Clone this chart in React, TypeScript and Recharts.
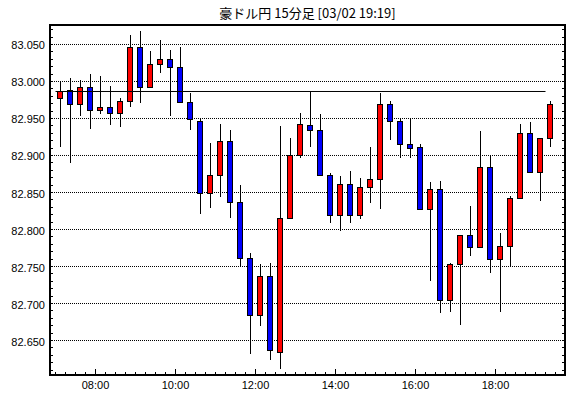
import React from 'react';
import { ComposedChart, Bar, XAxis, YAxis, CartesianGrid, ReferenceLine } from 'recharts';

// ---- data ----
const times = [
  '07:00', '07:15', '07:30', '07:45', '08:00', '08:15', '08:30', '08:45',
  '09:00', '09:15', '09:30', '09:45', '10:00', '10:15', '10:30', '10:45',
  '11:00', '11:15', '11:30', '11:45', '12:00', '12:15', '12:30', '12:45',
  '13:00', '13:15', '13:30', '13:45', '14:00', '14:15', '14:30', '14:45',
  '15:00', '15:15', '15:30', '15:45', '16:00', '16:15', '16:30', '16:45',
  '17:00', '17:15', '17:30', '17:45', '18:00', '18:15', '18:30', '18:45',
  '19:00', '19:15',
];
const openVals = [
  82.978, 82.989, 82.970, 82.992, 82.962, 82.966, 82.958, 82.974, 83.046, 82.993,
  83.024, 83.030, 83.020, 82.972, 82.947, 82.849, 82.874, 82.920, 82.837, 82.761,
  82.684, 82.737, 82.635, 82.816, 82.901, 82.941, 82.934, 82.874, 82.819, 82.862,
  82.819, 82.858, 82.868, 82.969, 82.947, 82.915, 82.911, 82.828, 82.855, 82.705,
  82.754, 82.793, 82.777, 82.885, 82.760, 82.778, 82.843, 82.931, 82.878, 82.923,
];
const highVals = [
  83.000, 83.005, 83.002, 83.010, 83.007, 82.994, 82.978, 83.063, 83.068, 83.041,
  83.056, 83.042, 83.046, 82.984, 82.951, 82.917, 82.942, 82.934, 82.860, 82.768,
  82.753, 82.755, 82.940, 82.924, 82.957, 82.987, 82.956, 82.876, 82.872, 82.879,
  82.869, 82.911, 82.984, 82.973, 82.950, 82.950, 82.916, 82.864, 82.866, 82.755,
  82.793, 82.832, 82.933, 82.901, 82.795, 82.845, 82.942, 82.945, 82.924, 82.974,
];
const lowVals = [
  82.912, 82.890, 82.954, 82.936, 82.956, 82.941, 82.939, 82.966, 82.971, 82.992,
  83.012, 82.954, 82.972, 82.935, 82.821, 82.829, 82.844, 82.816, 82.750, 82.632,
  82.669, 82.623, 82.612, 82.815, 82.897, 82.912, 82.872, 82.809, 82.798, 82.809,
  82.814, 82.836, 82.828, 82.921, 82.897, 82.897, 82.828, 82.730, 82.687, 82.689,
  82.671, 82.764, 82.777, 82.741, 82.689, 82.750, 82.841, 82.878, 82.838, 82.912,
];
const closeVals = [
  82.987, 82.970, 82.992, 82.962, 82.966, 82.958, 82.974, 83.046, 82.992, 83.024,
  83.030, 83.020, 82.972, 82.949, 82.849, 82.874, 82.920, 82.837, 82.761, 82.684,
  82.737, 82.637, 82.816, 82.901, 82.942, 82.934, 82.874, 82.819, 82.862, 82.819,
  82.858, 82.868, 82.969, 82.946, 82.915, 82.910, 82.828, 82.855, 82.705, 82.754,
  82.793, 82.777, 82.885, 82.760, 82.778, 82.843, 82.931, 82.878, 82.923, 82.970,
];
const refLevel = 82.9865;
const refStart = '07:00';
const refEnd = '19:15';
const gridValues = [82.65, 82.7, 82.75, 82.8, 82.85, 82.9, 82.95, 83.0, 83.05];
const xLabels = ['08:00', '10:00', '12:00', '14:00', '16:00', '18:00'];
const title = '豪ドル円 15分足 [03/02 19:19]';

// ---- helpers ----
const toMin = (s: string) => {
  const [h, m] = s.split(':').map(Number);
  return h * 60 + m;
};
const fmt = (v: number) => {
  const h = Math.floor(v / 60);
  const m = Math.round(v - h * 60);
  return `${String(h).padStart(2, '0')}:${String(m).padStart(2, '0')}`;
};

const data = times.map((s, i) => ({
  t: toMin(s) + 7.5,
  open: openVals[i],
  high: highVals[i],
  low: lowVals[i],
  close: closeVals[i],
  range: [lowVals[i], highVals[i]],
}));

const X_DOMAIN: [number, number] = [411.75, 1184.25];
const Y_DOMAIN: [number, number] = [82.60338, 83.07635];

const xTicks: number[] = [];
for (let v = 420; v <= 1170; v += 15) xTicks.push(v);
const yTicks: number[] = [];
for (let k = 8261; k <= 8307; k += 1) yTicks.push(k / 100);

const FONT = '"Liberation Sans", Arial, sans-serif';

const Candle = (props: any) => {
  const { x, y, width, height, payload } = props;
  if (x == null || y == null || !payload) return null;
  const top = Math.min(y, y + height);
  const h = Math.abs(height);
  const { open, close, high, low } = payload;
  const py = (v: number) => top + ((high - v) / (high - low)) * h;
  const cx = Math.floor(x + width / 2) + 0.5;
  const up = close >= open;
  const yb1 = Math.round(py(Math.max(open, close)));
  const yb2 = Math.round(py(Math.min(open, close)));
  return (
    <g>
      <line x1={cx} x2={cx} y1={Math.round(py(high))} y2={Math.round(py(low))} stroke="#000" strokeWidth={1} />
      <rect
        x={cx - 3}
        y={yb1 + 0.5}
        width={5}
        height={Math.max(yb2 - yb1, 1)}
        fill={up ? '#ff0000' : '#0000ff'}
        stroke="#000"
        strokeWidth={1}
      />
    </g>
  );
};

const BottomTick = (props: any) => {
  const { x, y, payload } = props;
  const label = fmt(payload.value);
  const major = xLabels.includes(label);
  return (
    <g>
      <line x1={x} x2={x} y1={y} y2={y - (major ? 6 : 3)} stroke="#000" />
      {major && (
        <text x={x} y={y + 14} textAnchor="middle" fontSize={11} fontFamily={FONT} fill="#000">
          {label}
        </text>
      )}
    </g>
  );
};

const TopTick = (props: any) => {
  const { x, y, payload } = props;
  const major = xLabels.includes(fmt(payload.value));
  return <line x1={x} x2={x} y1={y} y2={y + (major ? 5 : 2)} stroke="#000" />;
};

const LeftTick = (props: any) => {
  const { x, y, payload } = props;
  const v = payload.value as number;
  const major = Math.round(v * 1000) % 50 === 0;
  const yy = Math.floor(y) + 0.5;
  return (
    <g>
      <line x1={x} x2={x + 3} y1={yy} y2={yy} stroke="#000" />
      {major && (
        <text x={x - 5} y={y + 5} textAnchor="end" fontSize={11} fontFamily={FONT} fill="#000">
          {v.toFixed(3)}
        </text>
      )}
    </g>
  );
};

const RightTick = (props: any) => {
  const { x, y } = props;
  const yy = Math.floor(y) + 0.5;
  return <line x1={x} x2={x - 3} y1={yy} y2={yy} stroke="#000" />;
};

const axisLine = { stroke: '#000', strokeWidth: 2, strokeLinecap: 'square' as const };

export default function App() {
  return (
    <div style={{ position: 'absolute', left: 0, top: 0, width: 570, height: 398, background: '#fff' }}>
      <ComposedChart width={570} height={398} data={data} margin={{ top: 0, right: 0, bottom: 0, left: 0 }}>
        <CartesianGrid
          horizontal
          vertical={false}
          horizontalValues={gridValues}
          stroke="#000"
          strokeDasharray="1 1"
        />
        <XAxis
          dataKey="t"
          type="number"
          domain={X_DOMAIN}
          allowDataOverflow
          ticks={xTicks}
          interval={0}
          tickSize={0}
          tickMargin={0}
          tickLine={false}
          tick={BottomTick}
          axisLine={axisLine}
          height={23}
        />
        <XAxis
          xAxisId="top"
          orientation="top"
          type="number"
          domain={X_DOMAIN}
          allowDataOverflow
          ticks={xTicks}
          interval={0}
          tickSize={0}
          tickMargin={0}
          tickLine={false}
          tick={TopTick}
          axisLine={axisLine}
          height={25}
        />
        <YAxis
          type="number"
          domain={Y_DOMAIN}
          allowDataOverflow
          ticks={yTicks}
          interval={0}
          tickSize={0}
          tickMargin={0}
          tickLine={false}
          tick={LeftTick}
          axisLine={axisLine}
          width={50}
        />
        <YAxis
          yAxisId="right"
          orientation="right"
          type="number"
          domain={Y_DOMAIN}
          allowDataOverflow
          ticks={yTicks}
          interval={0}
          tickSize={0}
          tickMargin={0}
          tickLine={false}
          tick={RightTick}
          axisLine={axisLine}
          width={5}
        />
        <ReferenceLine
          segment={[
            { x: toMin(refStart), y: refLevel },
            { x: toMin(refEnd), y: refLevel },
          ]}
          stroke="#000"
          strokeWidth={1}
          ifOverflow="visible"
        />
        <Bar dataKey="range" barSize={6} shape={Candle} isAnimationActive={false} />
      </ComposedChart>
      <div
        style={{
          position: 'absolute',
          left: 0,
          top: 5,
          width: 615,
          textAlign: 'center',
          fontFamily: '"Noto Sans CJK JP", sans-serif',
          fontSize: 13,
          lineHeight: '15px',
          color: '#000',
          whiteSpace: 'nowrap',
        }}
      >
        {title}
      </div>
    </div>
  );
}
